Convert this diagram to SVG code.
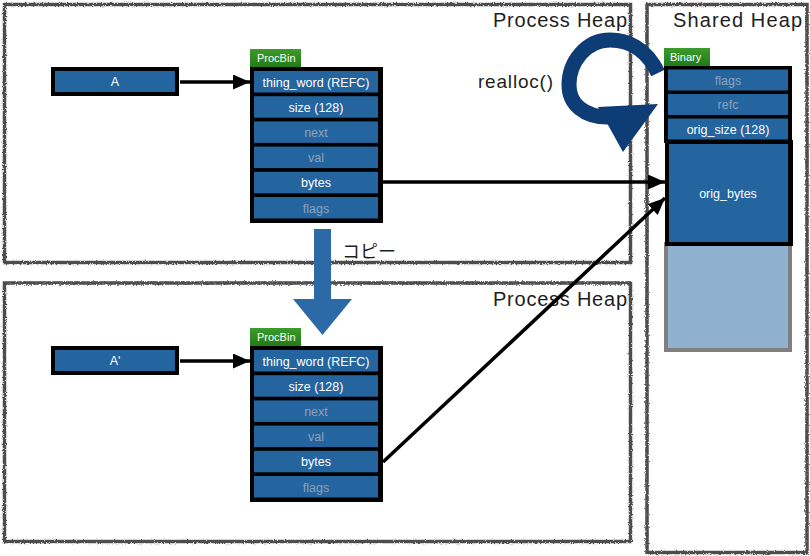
<svg xmlns="http://www.w3.org/2000/svg" width="810" height="556" viewBox="0 0 810 556">
  <defs>
    <style>
      .heap { fill: none; stroke: #4d4d4d; stroke-width: 3.5; filter: url(#rough); }
      .heapLabel { font-family: "Liberation Sans", Arial, sans-serif; font-size: 20px; fill: #1e1e1e; }
      .frame { fill: #000; }
      .cell { fill: #24649f; }
      .txt { font-family: "Liberation Sans", Arial, sans-serif; font-size: 12.5px; text-anchor: middle; fill: #ffffff; }
      .dim { fill: #8ea2b8; }
      .tag { fill: url(#tagGrad); }
      .tagTxt { font-family: "Liberation Sans", Arial, sans-serif; font-size: 11px; fill: #ffffff; }
      .link { stroke: #000; stroke-width: 3.5; fill: none; marker-end: url(#head); }
    </style>
    <linearGradient id="tagGrad" x1="0" y1="0" x2="0" y2="1">
      <stop offset="0" stop-color="#3c9c2c"/>
      <stop offset="1" stop-color="#237a16"/>
    </linearGradient>
    <filter id="rough" x="-5%" y="-5%" width="110%" height="110%">
      <feTurbulence type="fractalNoise" baseFrequency="0.9" numOctaves="2" seed="3" result="n"/>
      <feDisplacementMap in="SourceGraphic" in2="n" scale="3" xChannelSelector="R" yChannelSelector="G"/>
    </filter>
    <marker id="head" markerUnits="userSpaceOnUse" markerWidth="18" markerHeight="16" refX="17" refY="7.5" orient="auto">
      <path d="M0,0 L17,7.5 L0,15 z" fill="#000"/>
    </marker>
  </defs>

  <!-- heap regions -->
  <g id="process-heap-1">
    <rect class="heap" x="4.5" y="4.5" width="626" height="258"/>
    <text class="heapLabel" x="493" y="27" textLength="134">Process Heap</text>
  </g>
  <g id="process-heap-2">
    <rect class="heap" x="4.5" y="283" width="626" height="258.5"/>
    <text class="heapLabel" x="493" y="306" textLength="134">Process Heap</text>
  </g>
  <g id="shared-heap">
    <rect class="heap" x="647" y="4.5" width="160" height="548"/>
    <text class="heapLabel" x="673" y="27" textLength="129">Shared Heap</text>
  </g>

  <!-- references -->
  <g id="ref-a">
    <rect class="cell" x="53" y="69" width="124" height="25" stroke="#000" stroke-width="4"/>
    <text class="txt" x="115" y="86">A</text>
  </g>
  <g id="ref-a2">
    <rect class="cell" x="53" y="348" width="124" height="25" stroke="#000" stroke-width="4"/>
    <text class="txt" x="115" y="365">A'</text>
  </g>

  <!-- ProcBin in the first process -->
  <g id="procbin-1">
    <rect class="tag" x="250" y="49" width="51" height="18"/>
    <text class="tagTxt" x="257" y="62">ProcBin</text>
    <rect class="frame" x="250" y="67" width="133" height="156"/>
    <rect class="cell" x="254" y="71" width="124" height="21.5"/>
    <rect class="cell" x="254" y="96.2" width="124" height="21.5"/>
    <rect class="cell" x="254" y="121.4" width="124" height="21.5"/>
    <rect class="cell" x="254" y="146.6" width="124" height="21.5"/>
    <rect class="cell" x="254" y="171.8" width="124" height="21.5"/>
    <rect class="cell" x="254" y="197" width="124" height="21.5"/>
    <text class="txt" x="316" y="86.5">thing_word (REFC)</text>
    <text class="txt" x="316" y="111.7">size (128)</text>
    <text class="txt dim" x="316" y="136.9">next</text>
    <text class="txt dim" x="316" y="162.1">val</text>
    <text class="txt" x="316" y="187.3">bytes</text>
    <text class="txt dim" x="316" y="212.5">flags</text>
  </g>

  <!-- ProcBin in the second process -->
  <g id="procbin-2">
    <rect class="tag" x="250" y="328" width="51" height="18"/>
    <text class="tagTxt" x="257" y="341">ProcBin</text>
    <rect class="frame" x="250" y="346" width="133" height="156"/>
    <rect class="cell" x="254" y="350" width="124" height="21.5"/>
    <rect class="cell" x="254" y="375.2" width="124" height="21.5"/>
    <rect class="cell" x="254" y="400.4" width="124" height="21.5"/>
    <rect class="cell" x="254" y="425.6" width="124" height="21.5"/>
    <rect class="cell" x="254" y="450.8" width="124" height="21.5"/>
    <rect class="cell" x="254" y="476" width="124" height="21.5"/>
    <text class="txt" x="316" y="365.5">thing_word (REFC)</text>
    <text class="txt" x="316" y="390.7">size (128)</text>
    <text class="txt dim" x="316" y="415.9">next</text>
    <text class="txt dim" x="316" y="441.1">val</text>
    <text class="txt" x="316" y="466.3">bytes</text>
    <text class="txt dim" x="316" y="491.5">flags</text>
  </g>

  <!-- off-heap binary in the shared heap -->
  <g id="binary">
    <rect x="666" y="244" width="124" height="106" fill="#8fb0cf" stroke="#7f7f7f" stroke-width="4"/>
    <rect class="tag" x="664" y="48" width="46" height="18"/>
    <text class="tagTxt" x="670" y="61">Binary</text>
    <rect class="frame" x="664" y="66" width="128" height="77"/>
    <rect class="cell" x="668" y="69.5" width="120" height="21"/>
    <rect class="cell" x="668" y="94" width="120" height="21"/>
    <rect class="cell" x="668" y="118.5" width="120" height="21"/>
    <text class="txt dim" x="728" y="84.5">flags</text>
    <text class="txt dim" x="728" y="109">refc</text>
    <text class="txt" x="728" y="133.5">orig_size (128)</text>
    <rect class="frame" x="665" y="140" width="128" height="106"/>
    <rect class="cell" x="669" y="144" width="119" height="98"/>
    <text class="txt" x="728" y="197.5">orig_bytes</text>
  </g>

  <!-- realloc loop -->
  <g id="realloc">
    <path d="M658,73 C646,48 627,40 610,40 C586,40 569,62 569,85 C569,104 584,117 608,117" fill="none" stroke="#0e3c74" stroke-width="15"/>
    <path d="M598,107 L658,104 L623,152 z" fill="#0e3c74"/>
    <text x="478" y="88" font-family="'Liberation Sans', Arial, sans-serif" font-size="19" textLength="75" fill="#1e1e1e">realloc()</text>
  </g>

  <!-- copy step -->
  <g id="copy">
    <path d="M314,229 H331 V299 H352 L322.5,335 L293,299 H314 z" fill="#2b6aa6"/>
    <text x="342" y="258" font-family="'Noto Sans CJK JP', sans-serif" font-size="18" fill="#1e1e1e">コピー</text>
  </g>

  <!-- connectors -->
  <g id="connectors">
    <line class="link" x1="180" y1="82" x2="250" y2="82"/>
    <line class="link" x1="180" y1="361" x2="250" y2="361"/>
    <line class="link" x1="383" y1="182" x2="665" y2="182"/>
    <line class="link" x1="383" y1="462" x2="665" y2="198"/>
  </g>
</svg>
